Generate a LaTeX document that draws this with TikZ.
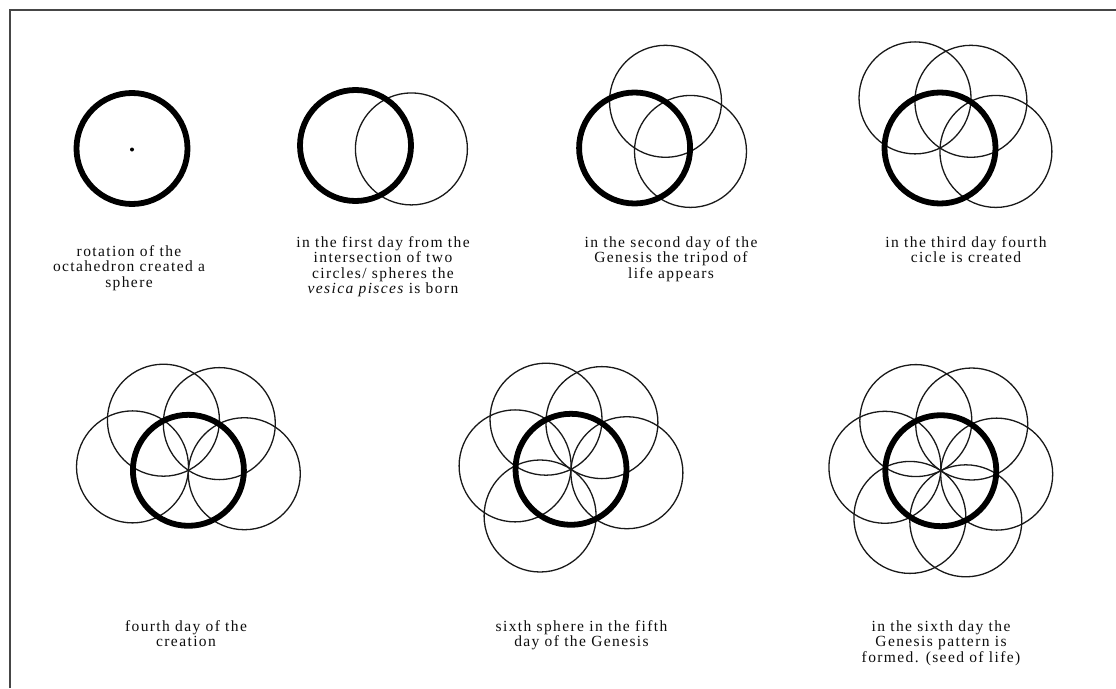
\documentclass[tikz,border=0pt]{standalone}
\usepackage{fontspec}
\setmainfont{Liberation Serif}[LetterSpace=9.0]
\usetikzlibrary{calc}
\tikzset{
  thickring/.style={line width=5.8pt, black},
  thinring/.style={line width=1.3pt, black!90},
  caption/.style={anchor=north, inner sep=0pt, align=center, text=black!95,
    font=\fontsize{15.5}{15.4}\selectfont},
  frameline/.style={line width=2.2pt, draw={rgb,255:red,70;green,70;blue,70}}
}
\newcommand\petalset[2]{%
  \foreach \k in {1,...,#2}{%
    \draw[thinring] ($(#1)+({3.5-60*(\k-1)}:56)$) circle[radius=56pt];
  }%
  \draw[thickring] (#1) circle[radius=55.5pt];
}
\begin{document}
\begin{tikzpicture}[x=1pt,y=-1pt]
\useasboundingbox (0,0) rectangle (1116,688);
\fill[white] (0,0) rectangle (1116,688);
% frame
\coordinate (fc) at (9.6,10);
\coordinate (fr) at (1116,10);
\coordinate (fb) at (9.6,688);
\draw[frameline] (fb) -- (fc) -- (fr);
% centres
\coordinate (c1) at (132,148.5);
\coordinate (c2) at (355.5,145.5);
\coordinate (c3) at (634.6,148);
\coordinate (c4) at (940,148);
\coordinate (c5) at (188.4,470.3);
\coordinate (c6) at (571,469.3);
\coordinate (c7) at (940.8,470.7);
% panel 1
\draw[thickring] (c1) circle[radius=55.5pt];
\fill (c1) ++(0,1) circle[radius=2pt];
% panels 2-7
\petalset{c2}{1}
\petalset{c3}{2}
\petalset{c4}{3}
\petalset{c5}{4}
\petalset{c6}{5}
\petalset{c7}{6}
% captions
\node[caption] (t1) at (129,245.4) {rotation of the\\octahedron created a\\sphere};
\node[caption] (t2) at (383,236.4) {in the first day from the\\intersection of two\\circles/ spheres the\\\textit{vesica pisces}\hspace{-1.4pt} is born};
\node[caption] (t3) at (671,236.4) {in the second day of the\\Genesis the tripod of\\life appears};
\node[caption] (t4) at (966,236.4) {in the third day fourth\\cicle is created};
\node[caption] (t5) at (186,620.4) {fourth day of the\\creation};
\node[caption] (t6) at (581.5,620.4) {sixth sphere in the fifth\\day of the Genesis};
\node[caption] (t7) at (941,620.4) {in the sixth day the\\Genesis pattern is\\formed. (seed of life)};
\end{tikzpicture}
\end{document}
